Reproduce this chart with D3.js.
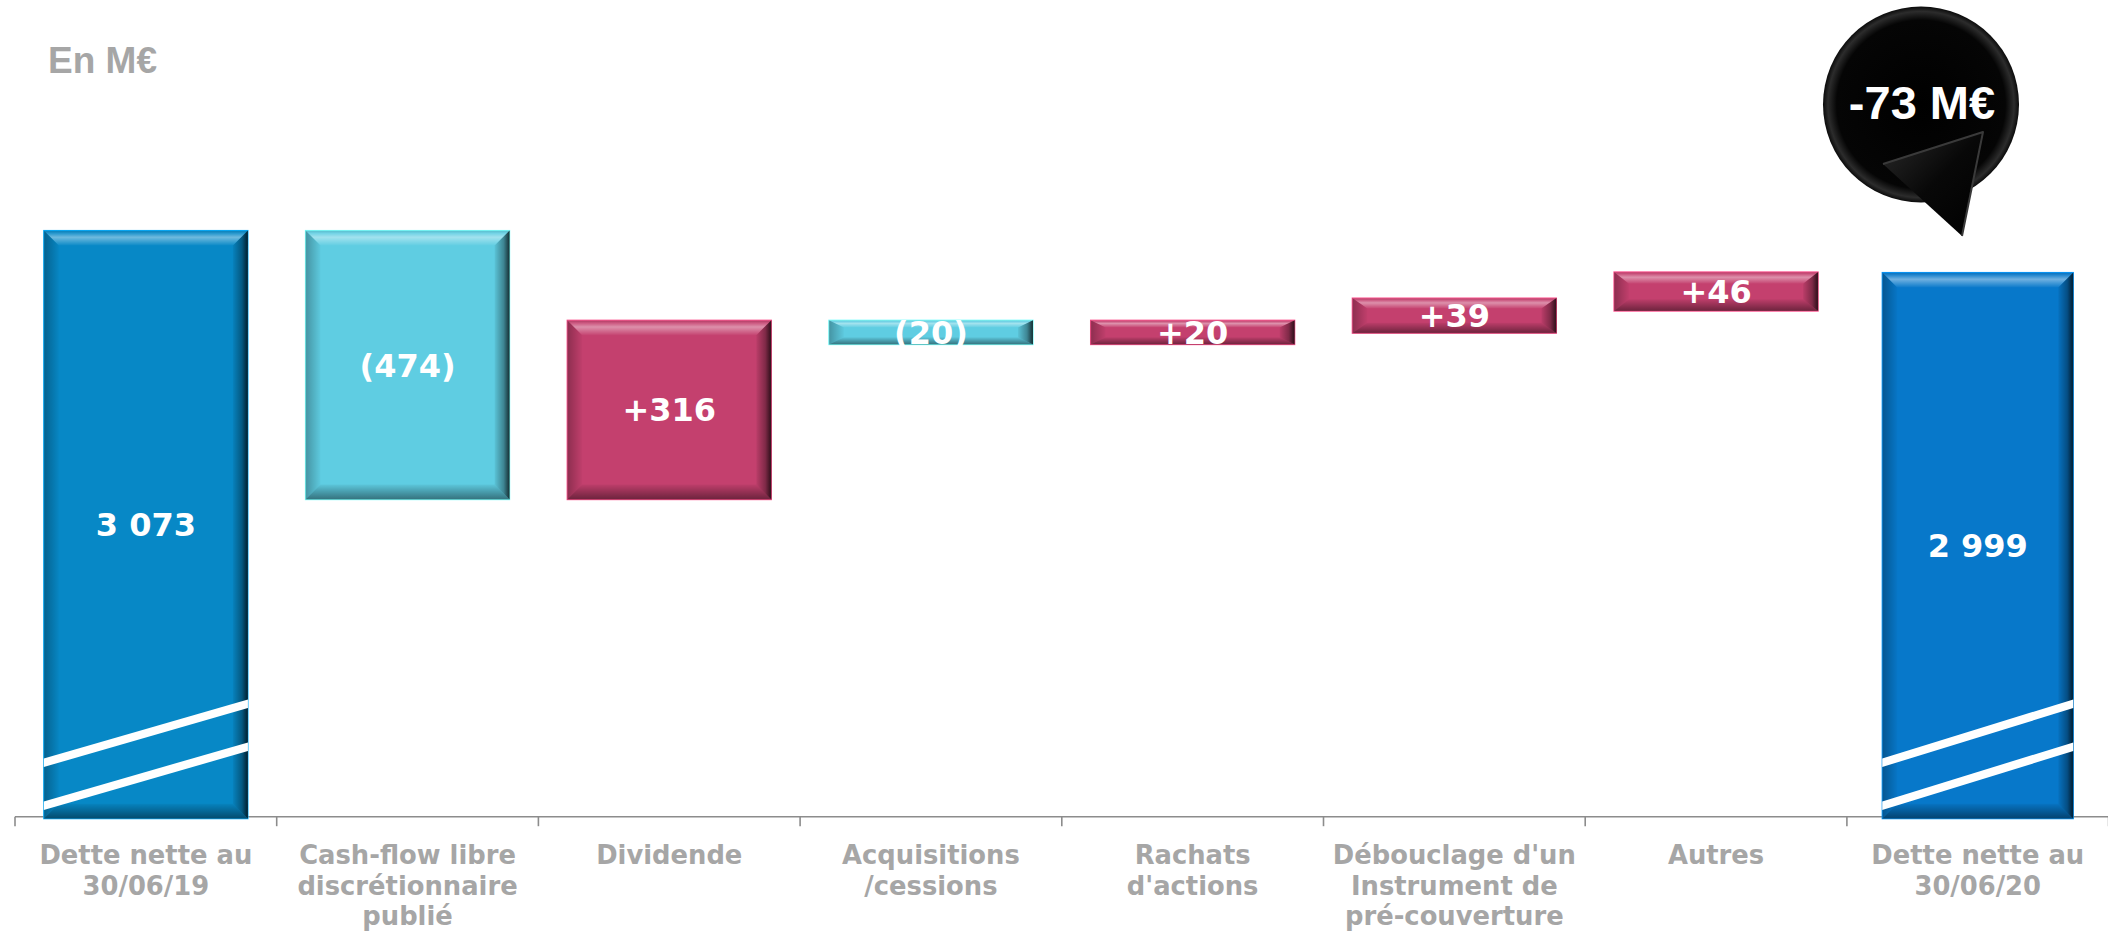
<!DOCTYPE html>
<html>
<head>
<meta charset="utf-8">
<script src="https://cdn.jsdelivr.net/npm/d3@7"></script>
<style>
  body { margin: 0; background: #fff; }
  svg { display: block; }
</style>
</head>
<body>
<div id="chart"></div>
<script>
//------------------------------------------------------
// Données
//------------------------------------------------------
const categories = [
  "Dette nette au\n30/06/19",
  "Cash-flow libre\ndiscrétionnaire\npublié",
  "Dividende",
  "Acquisitions\n/cessions",
  "Rachats\nd'actions",
  "Débouclage d'un\nInstrument de\npré-couverture",
  "Autres",
  "Dette nette au\n30/06/20"
];
const values = [3073, -474, 316, -20, 20, 39, 46, 2999];
const kinds = ["total", "delta", "delta", "delta", "delta", "delta", "delta", "total"];
const valueLabels = ["3 073", "(474)", "+316", "(20)", "+20", "+39", "+46", "2 999"];
const unitLabel = "En M€";
const calloutLabel = "-73 M€";

//------------------------------------------------------
// Mise en page
//------------------------------------------------------
const width = 2108;
const height = 934;
const axisY = 816.7;

const colStart = "#0788c6";
const colEnd = "#0778ca";
const colNeg = "#5fcde2";
const colPos = "#c4406e";
const grey = "#a6a6a6";

const svg = d3.select("#chart").append("svg")
  .attr("width", width)
  .attr("height", height)
  .attr("viewBox", [0, 0, width, height]);

const x = d3.scaleBand()
  .domain(categories)
  .range([15, 2108.6])
  .padding(0);

const barW = x.bandwidth() * 0.78;
const lastBarW = x.bandwidth() * 0.73;

// échelle coupée : seule la partie haute est à l'échelle
const y = d3.scaleLinear()
  .domain([2500, 3100])
  .range([555.8, 215.2]);

// =====================
// Dégradés (effet biseau)
// =====================
const defs = svg.append("defs");

function grad(id, x2, y2, stops) {
  const lg = defs.append("linearGradient")
    .attr("id", id)
    .attr("x1", 0).attr("y1", 0)
    .attr("x2", x2).attr("y2", y2);
  stops.forEach(([o, c, a]) => {
    lg.append("stop")
      .attr("offset", o)
      .attr("stop-color", c)
      .attr("stop-opacity", a);
  });
}

grad("bevTop", 0, 1, [[0, "#000", 0.12], [0.18, "#fff", 0.12], [0.45, "#fff", 0.42], [1, "#fff", 0.02]]);
grad("bevLeft", 1, 0, [[0, "#000", 0.28], [1, "#000", 0.02]]);
grad("bevRight", 1, 0, [[0, "#000", 0.05], [0.6, "#000", 0.35], [1, "#000", 0.78]]);
grad("bevBottom", 0, 1, [[0, "#000", 0.04], [1, "#000", 0.45]]);
grad("tailGrad", 1, 1, [[0, "#2a2a2a", 1], [0.5, "#080808", 1], [1, "#000", 1]]);

const bubbleGrad = defs.append("radialGradient")
  .attr("id", "bubble")
  .attr("cx", "50%").attr("cy", "50%").attr("r", "50%");
[[0, "#000"], [0.86, "#050505"], [0.95, "#2c2c2c"], [1, "#0a0a0a"]].forEach(([o, c]) => {
  bubbleGrad.append("stop").attr("offset", o).attr("stop-color", c);
});

// =====================
// Calcul de la cascade
// =====================
let running = 0;
const bars = values.map((v, i) => {
  const w = i === values.length - 1 ? lastBarW : barW;
  const x0 = x(categories[i]) + (x.bandwidth() - w) / 2;
  if (kinds[i] === "total") {
    running = v;
    return {
      i, x0, w,
      top: y(v),
      h: axisY + 2 - y(v),
      color: i === 0 ? colStart : colEnd,
      total: true
    };
  }
  const start = running;
  running += v;
  const top = y(Math.max(start, running));
  let h = y(Math.min(start, running)) - top;
  // les petites variations sont épaissies pour que l'étiquette tienne
  if (h < 40) h += 13;
  return { i, x0, w, top, h, color: v < 0 ? colNeg : colPos, total: false };
});

// =====================
// Axe des catégories
// =====================
const gAxis = svg.append("g");

gAxis.append("line")
  .attr("x1", 15).attr("x2", width)
  .attr("y1", axisY).attr("y2", axisY)
  .attr("stroke", "#8c8c8c")
  .attr("stroke-width", 1.6);

const tickXs = categories.map(c => x(c)).concat([x.range()[1]]);
gAxis.selectAll(".tick")
  .data(tickXs)
  .join("line")
  .attr("class", "tick")
  .attr("x1", d => d).attr("x2", d => d)
  .attr("y1", axisY).attr("y2", axisY + 9.5)
  .attr("stroke", "#8c8c8c")
  .attr("stroke-width", 1.6);

const catText = gAxis.selectAll(".cat")
  .data(categories)
  .join("text")
  .attr("class", "cat")
  .attr("text-anchor", "middle")
  .attr("font-family", "'DejaVu Sans', Verdana, sans-serif")
  .attr("font-weight", "bold")
  .attr("font-size", 25.8)
  .attr("fill", grey);

catText.each(function (d) {
  const t = d3.select(this);
  d.split("\n").forEach((line, k) => {
    t.append("tspan")
      .attr("x", x(d) + x.bandwidth() / 2)
      .attr("y", 864 + k * 30.5)
      .text(line);
  });
});

// =====================
// Barres
// =====================
const gBars = svg.append("g");

bars.forEach(b => {
  const g = gBars.append("g");
  const x0 = b.x0, y0 = b.top, w = b.w, h = b.h;
  const x1 = x0 + w, y1 = y0 + h;
  const bx = Math.min(15, w / 2);
  const by = Math.min(15, h * 0.3);

  g.append("rect")
    .attr("x", x0).attr("y", y0)
    .attr("width", w).attr("height", h)
    .attr("fill", b.color)
    .attr("stroke", d3.color(b.color).brighter(0.7))
    .attr("stroke-width", 1.2);

  const poly = (pts, fill) => g.append("polygon")
    .attr("points", pts.map(p => p.join(",")).join(" "))
    .attr("fill", fill);

  poly([[x0, y0], [x1, y0], [x1 - bx, y0 + by], [x0 + bx, y0 + by]], "url(#bevTop)");
  poly([[x0, y0], [x0 + bx, y0 + by], [x0 + bx, y1 - by], [x0, y1]], "url(#bevLeft)");
  poly([[x1, y0], [x1, y1], [x1 - bx, y1 - by], [x1 - bx, y0 + by]], "url(#bevRight)");
  poly([[x0, y1], [x0 + bx, y1 - by], [x1 - bx, y1 - by], [x1, y1]], "url(#bevBottom)");

  // symbole de rupture d'axe
  if (b.total) {
    const t = 4.3;
    [[54, 113], [11, 70]].forEach(([l, r]) => {
      const yl = axisY - l, yr = axisY - r;
      g.append("polygon")
        .attr("points", [[x0, yl - t], [x1, yr - t], [x1, yr + t], [x0, yl + t]]
          .map(p => p.join(",")).join(" "))
        .attr("fill", "#fff");
    });
  }
});

gBars.selectAll(".val")
  .data(bars)
  .join("text")
  .attr("class", "val")
  .attr("x", d => d.x0 + d.w / 2)
  .attr("y", d => d.top + d.h / 2)
  .attr("dy", "0.36em")
  .attr("text-anchor", "middle")
  .attr("font-family", "'DejaVu Sans', Verdana, sans-serif")
  .attr("font-weight", "bold")
  .attr("font-size", 32)
  .attr("fill", "#fff")
  .text(d => valueLabels[d.i]);

// =====================
// Unité
// =====================
svg.append("text")
  .attr("x", 48)
  .attr("y", 73)
  .attr("font-family", "'Liberation Sans', Arial, sans-serif")
  .attr("font-weight", "bold")
  .attr("font-size", 37)
  .attr("fill", grey)
  .text(unitLabel);

// =====================
// Bulle de variation
// =====================
const cx = 1921, cy = 104.5, r = 98;
const tail = [[1883, 164], [1983, 132], [1962, 236]];
const gBubble = svg.append("g");

gBubble.append("circle")
  .attr("cx", cx).attr("cy", cy).attr("r", r)
  .attr("fill", "url(#bubble)");

gBubble.append("polygon")
  .attr("points", tail.map(p => p.join(",")).join(" "))
  .attr("fill", "url(#tailGrad)");

gBubble.append("path")
  .attr("d", d3.line()([tail[0], tail[1], tail[2]]))
  .attr("fill", "none")
  .attr("stroke", "#3a3a3a")
  .attr("stroke-width", 2)
  .attr("stroke-linejoin", "round");

gBubble.append("text")
  .attr("x", cx + 1)
  .attr("y", 119)
  .attr("text-anchor", "middle")
  .attr("font-family", "'Liberation Sans', Arial, sans-serif")
  .attr("font-weight", "bold")
  .attr("font-size", 47)
  .attr("fill", "#fff")
  .text(calloutLabel);
</script>
</body>
</html>
